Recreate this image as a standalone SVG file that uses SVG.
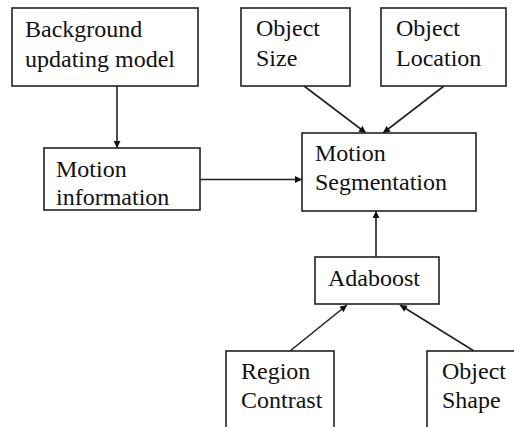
<svg xmlns="http://www.w3.org/2000/svg" width="514" height="427" viewBox="0 0 514 427">
<style>
.box{fill:#fff;stroke:#222;stroke-width:1.6}
.lbl{font-size:24px;fill:#111}
.edge{stroke:#222;stroke-width:1.6;fill:none;marker-end:url(#ah)}
</style>
<defs>
<marker id="ah" viewBox="0 0 10 10" refX="10" refY="5" markerWidth="8" markerHeight="7" orient="auto" markerUnits="userSpaceOnUse">
<path d="M0,0 L10,5 L0,10 z" fill="#111"/>
</marker>
</defs>
<rect width="514" height="427" fill="#fff"/>
<g id="connectors">
<line class="edge" x1="117" y1="86" x2="117" y2="148"/>
<line class="edge" x1="200" y1="179.5" x2="302" y2="179.5"/>
<line class="edge" x1="304" y1="86" x2="366" y2="133"/>
<line class="edge" x1="444" y1="86" x2="383" y2="133"/>
<line class="edge" x1="376" y1="257" x2="376" y2="211"/>
<line class="edge" x1="290" y1="351" x2="347" y2="305"/>
<line class="edge" x1="474" y1="351" x2="400" y2="305"/>
</g>
<g font-family="Liberation Serif, Times New Roman, DejaVu Serif, serif">
<g id="background">
<rect class="box" x="12" y="8" width="186" height="78"/>
<text class="lbl" x="25" y="37">Background</text>
<text class="lbl" x="25" y="67">updating model</text>
</g>
<g id="object-size">
<rect class="box" x="241" y="8" width="109" height="78"/>
<text class="lbl" x="256" y="36">Object</text>
<text class="lbl" x="256" y="66">Size</text>
</g>
<g id="object-location">
<rect class="box" x="381" y="8" width="125" height="78"/>
<text class="lbl" x="396" y="36">Object</text>
<text class="lbl" x="396" y="66">Location</text>
</g>
<g id="motion-information">
<rect class="box" x="44" y="148" width="156" height="62"/>
<text class="lbl" x="56" y="177">Motion</text>
<text class="lbl" x="56" y="205">information</text>
</g>
<g id="motion-segmentation">
<rect class="box" x="302" y="133" width="174" height="78"/>
<text class="lbl" x="315" y="161">Motion</text>
<text class="lbl" x="315" y="190">Segmentation</text>
</g>
<g id="adaboost">
<rect class="box" x="315" y="257" width="124" height="47"/>
<text class="lbl" x="328" y="286">Adaboost</text>
</g>
<g id="region-contrast">
<rect class="box" x="226" y="351" width="108" height="90"/>
<text class="lbl" x="241" y="379">Region</text>
<text class="lbl" x="241" y="408">Contrast</text>
</g>
<g id="object-shape">
<rect class="box" x="427" y="351" width="100" height="90"/>
<text class="lbl" x="442" y="379">Object</text>
<text class="lbl" x="442" y="408">Shape</text>
</g>
</g>
</svg>
